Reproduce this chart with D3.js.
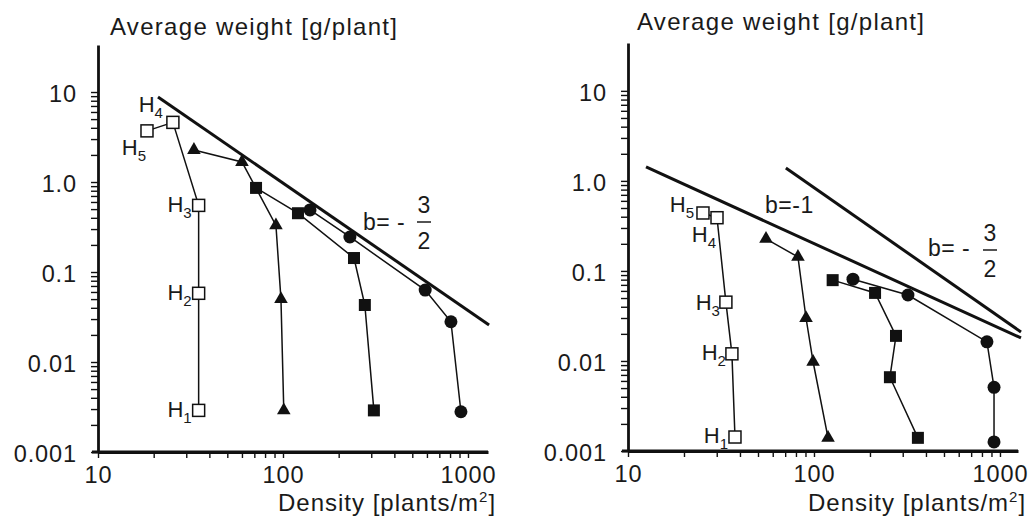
<!DOCTYPE html>
<html><head><meta charset="utf-8">
<script src="https://cdn.jsdelivr.net/npm/d3@7/dist/d3.min.js"></script>
<style>
body{margin:0;background:#fff}
text{font-family:"Liberation Sans",Arial,Helvetica,sans-serif;fill:#1a1a1a}
</style>
</head><body>
<svg id="c" width="1031" height="522"></svg>
<script>
// ---------- tick labels ----------
const xTickValues = [10, 100, 1000];
const xTickLabels = ["10", "100", "1000"];
const yTickValues = [0.001, 0.01, 0.1, 1, 10];
const yTickLabels = ["0.001", "0.01", "0.1", "1.0", "10"];
const yTitle = "Average weight [g/plant]";
const xTitle = "Density [plants/m";
const hSubs = ["1", "2", "3", "4", "5"];

// ---------- left panel data ----------
const leftOpenX   = [35, 35, 35, 25.4, 18.4];
const leftOpenY   = [0.0029, 0.058, 0.55, 4.6, 3.7];
const leftTriX    = [101, 97.5, 91.6, 60, 33];
const leftTriY    = [0.0029, 0.050, 0.33, 1.67, 2.27];
const leftSqX     = [310, 277, 242, 120.5, 71.5];
const leftSqY     = [0.0029, 0.043, 0.143, 0.45, 0.86];
const leftCircX   = [916, 809, 587, 230, 140];
const leftCircY   = [0.0028, 0.028, 0.063, 0.245, 0.49];
const leftRefX    = [21.1, 1300];
const leftRefY    = [8.8, 0.0258];

// ---------- right panel data ----------
const rightOpenX  = [37.6, 36.2, 33.6, 30.1, 25.3];
const rightOpenY  = [0.00143, 0.012, 0.045, 0.39, 0.44];
const rightTriX   = [119, 98.9, 90.6, 82, 55.2];
const rightTriY   = [0.0014, 0.0098, 0.030, 0.143, 0.227];
const rightSqX    = [362, 256, 276, 213, 126];
const rightSqY    = [0.0014, 0.0066, 0.019, 0.057, 0.079];
const rightCircX  = [929, 929, 851, 320, 162];
const rightCircY  = [0.00126, 0.0051, 0.0163, 0.054, 0.081];
const rightRef1X  = [12.5, 1297];
const rightRef1Y  = [1.43, 0.018];
const rightRef15X = [70.6, 1297];
const rightRef15Y = [1.39, 0.021];

const zip = (xs, ys) => xs.map((x, i) => ({x, y: ys[i]}));

const svg = d3.select("#c");

const panels = [
  {
    xRange: [98, 488], xMax: 1283, yRange: [452, 45], yMax: 33.3,
    titleX: 110, titleY: 35, xTitleX: 278,
    open: zip(leftOpenX, leftOpenY), tri: zip(leftTriX, leftTriY),
    sq: zip(leftSqX, leftSqY), circ: zip(leftCircX, leftCircY),
    refs: [zip(leftRefX, leftRefY)],
    hOff: [[-7, 7], [-7, 7], [-7, 7], [-10, -10], [-1, 24]],
    ann: [{text: "b= -", x: 363, y: 230, frac: {x: 424, y: 222}}]
  },
  {
    xRange: [628, 1018], xMax: 1250, yRange: [451, 43], yMax: 34,
    titleX: 637, titleY: 30, xTitleX: 808,
    open: zip(rightOpenX, rightOpenY), tri: zip(rightTriX, rightTriY),
    sq: zip(rightSqX, rightSqY), circ: zip(rightCircX, rightCircY),
    refs: [zip(rightRef1X, rightRef1Y), zip(rightRef15X, rightRef15Y)],
    hOff: [[-7, 6], [-6, 6], [-6, 8], [-1, 24], [-9, -1]],
    ann: [{text: "b=-1", x: 765, y: 213}, {text: "b= -", x: 928, y: 256, frac: {x: 990, y: 250}}]
  }
];

function minorTicks(lo, hi) {
  const t = [];
  for (let d = lo; d < hi * 1.0001; d *= 10) {
    for (let k = 1; k <= 9; k++) { const v = k * d; if (v <= hi * 1.0001) t.push(v); }
  }
  return t;
}

panels.forEach(p => {
  const x = d3.scaleLog().domain([10, p.xMax]).range(p.xRange);
  const y = d3.scaleLog().domain([0.001, p.yMax]).range(p.yRange);
  const g = svg.append("g");

  // y axis
  const yTicks = minorTicks(0.001, 10);
  const yAx = g.append("g").attr("transform", `translate(${p.xRange[0]},0)`)
    .call(d3.axisLeft(y).tickValues(yTicks).tickSize(7).tickSizeOuter(0)
      .tickPadding(14)
      .tickFormat(v => { const i = yTickValues.findIndex(t => Math.abs(t - v) / t < 1e-6); return i >= 0 ? yTickLabels[i] : ""; }));
  // x axis
  const xTicks = minorTicks(10, 1000);
  const xAx = g.append("g").attr("transform", `translate(0,${p.yRange[0]})`)
    .call(d3.axisBottom(x).tickValues(xTicks).tickSize(6).tickSizeOuter(0)
      .tickPadding(8)
      .tickFormat(v => { const i = xTickValues.findIndex(t => Math.abs(t - v) / t < 1e-6); return i >= 0 ? xTickLabels[i] : ""; }));
  [yAx, xAx].forEach(a => {
    a.select(".domain").attr("stroke", "#111").attr("stroke-width", 2.8);
    a.selectAll(".tick line").attr("stroke", "#111").attr("stroke-width", 1.4);
    a.selectAll("text").attr("font-size", 23.5).attr("fill", "#1a1a1a")
      .attr("font-family", '"Liberation Sans",Arial,sans-serif').attr("letter-spacing", 0.9);
  });
  yAx.selectAll("text").attr("dy", "0.42em");
  // extend x axis line slightly past the y axis, as in the original
  g.append("line").attr("x1", p.xRange[0] - 6).attr("x2", p.xRange[1])
    .attr("y1", p.yRange[0]).attr("y2", p.yRange[0]).attr("stroke", "#111").attr("stroke-width", 2.8);

  // titles
  g.append("text").attr("x", p.titleX).attr("y", p.titleY).attr("font-size", 24)
    .attr("letter-spacing", 1.3).text(yTitle);
  const xt = g.append("text").attr("x", p.xTitleX).attr("y", 511).attr("font-size", 24)
    .attr("letter-spacing", 1);
  xt.append("tspan").text(xTitle);
  xt.append("tspan").attr("font-size", 15).attr("dy", -9).text("2");
  xt.append("tspan").attr("dy", 9).text("]");

  // reference lines
  p.refs.forEach(r => {
    g.append("path").datum(r)
      .attr("d", d3.line().x(d => x(d.x)).y(d => y(d.y)))
      .attr("fill", "none").attr("stroke", "#111").attr("stroke-width", 3);
  });

  const line = d3.line().x(d => x(d.x)).y(d => y(d.y));
  [p.open, p.tri, p.sq, p.circ].forEach(s => {
    g.append("path").datum(s).attr("d", line)
      .attr("fill", "none").attr("stroke", "#111").attr("stroke-width", 1.5);
  });

  // markers
  g.selectAll(null).data(p.circ).join("circle")
    .attr("cx", d => x(d.x)).attr("cy", d => y(d.y)).attr("r", 6.5).attr("fill", "#111");
  g.selectAll(null).data(p.sq).join("rect")
    .attr("x", d => x(d.x) - 6).attr("y", d => y(d.y) - 6).attr("width", 12).attr("height", 12).attr("fill", "#111");
  const triSym = d3.symbol().type(d3.symbolTriangle).size(80);
  g.selectAll(null).data(p.tri).join("path")
    .attr("d", triSym).attr("transform", d => `translate(${x(d.x)},${y(d.y)})`).attr("fill", "#111");
  g.selectAll(null).data(p.open).join("rect")
    .attr("x", d => x(d.x) - 6).attr("y", d => y(d.y) - 6).attr("width", 12).attr("height", 12)
    .attr("fill", "#fff").attr("stroke", "#111").attr("stroke-width", 1.5);

  // H labels
  p.open.forEach((d, i) => {
    const t = g.append("text").attr("text-anchor", "end")
      .attr("x", x(d.x) + p.hOff[i][0]).attr("y", y(d.y) + p.hOff[i][1]).attr("font-size", 22);
    t.append("tspan").text("H");
    t.append("tspan").attr("font-size", 15).attr("dy", 6).text(hSubs[i]);
  });

  // annotations
  p.ann.forEach(a => {
    g.append("text").attr("x", a.x).attr("y", a.y).attr("font-size", 23).attr("letter-spacing", 0.5).text(a.text);
    if (a.frac) {
      g.append("text").attr("x", a.frac.x).attr("y", a.frac.y - 9).attr("text-anchor", "middle").attr("font-size", 23).text("3");
      g.append("line").attr("x1", a.frac.x - 7).attr("x2", a.frac.x + 7).attr("y1", a.frac.y).attr("y2", a.frac.y)
        .attr("stroke", "#1a1a1a").attr("stroke-width", 1.5);
      g.append("text").attr("x", a.frac.x).attr("y", a.frac.y + 27).attr("text-anchor", "middle").attr("font-size", 23).text("2");
    }
  });
});
</script>
</body></html>
